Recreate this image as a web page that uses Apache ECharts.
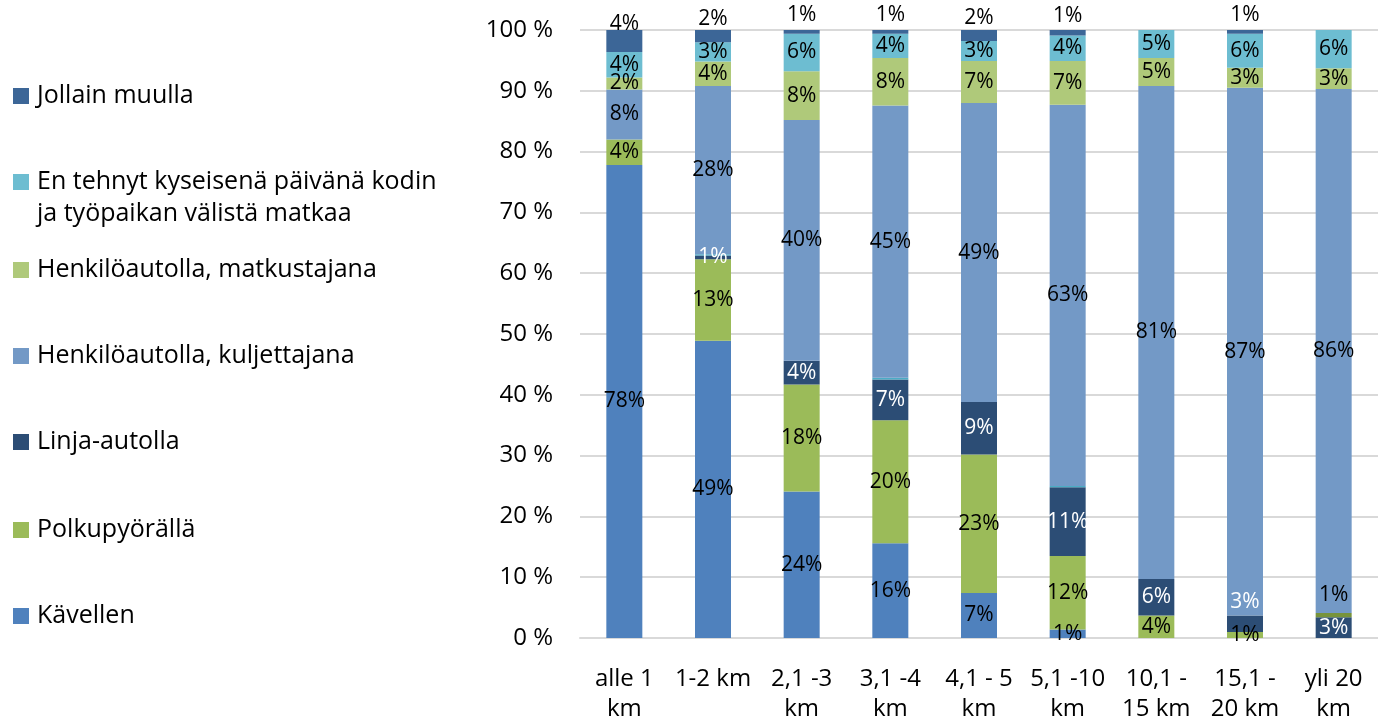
<!DOCTYPE html>
<html>
<head>
<meta charset="utf-8">
<script src="https://cdn.jsdelivr.net/npm/echarts@6/dist/echarts.min.js"></script>
<style>
html,body{margin:0;padding:0;background:#fff;}
#chart{width:1378px;height:724px;}
</style>
</head>
<body>
<div id="chart"></div>
<script>
// ---- data ----
const categories = ['alle 1\nkm','1-2 km','2,1 -3\nkm','3,1 -4\nkm','4,1 - 5\nkm','5,1 -10\nkm','10,1 -\n15 km','15,1 -\n20 km','yli 20\nkm'];
const seriesNames = ['Kävellen','Polkupyörällä','Linja-autolla','Muu joukkoliikenne','Muu','Henkilöautolla, kuljettajana','Henkilöautolla, matkustajana','En tehnyt kyseisenä päivänä kodin ja työpaikan välistä matkaa','Jollain muulla'];
const kavellen   = [77.8, 48.9, 24.1, 15.6, 7.4, 1.4, 0, 0, 0];
const polkupyora = [4.2, 13.4, 17.6, 20.2, 22.8, 12.1, 3.7, 1.0, 0];
const linjaauto  = [0, 0.6, 3.9, 6.7, 8.6, 11.3, 6.0, 2.7, 3.4];
const muuJoukko  = [0, 0.2, 0, 0.3, 0, 0.2, 0, 0, 0];
const muu        = [0, 0, 0, 0, 0, 0, 0, 0, 0.7];
const kuljettaja = [8.2, 27.7, 39.6, 44.8, 49.2, 62.7, 81.1, 86.8, 86.2];
const matkustaja = [2.0, 4.0, 8.0, 7.8, 6.9, 7.2, 4.6, 3.3, 3.4];
const enTehnyt   = [4.2, 3.2, 6.2, 4.0, 3.3, 4.2, 4.6, 5.6, 6.3];
const jollain    = [3.6, 2.0, 0.6, 0.6, 1.8, 0.9, 0, 0.6, 0];
const yTicks = [0,10,20,30,40,50,60,70,80,90,100];

const values = [kavellen, polkupyora, linjaauto, muuJoukko, muu, kuljettaja, matkustaja, enTehnyt, jollain];
const colors = ['#4F81BD','#9BBB59','#2C4D75','#4BACC6','#77933C','#7399C6','#AFC97A','#6DBDD1','#3C6697'];
const labelColors = ['#000','#000','#fff','#000','#000','#000','#000','#000','#000'];
// label vertical shifts (series index -> offset, or per-point overrides)
const seriesLabelShift = { 8: -17 };
const pointLabelShift = { '2-7': -22, '4-8': -20 };

const FONT = '"Open Sans", "DejaVu Sans", sans-serif';

const series = seriesNames.map((n, i) => ({
  name: n,
  type: 'bar',
  stack: 'total',
  barWidth: 36,
  data: values[i].map((v, j) => {
    const key = i + '-' + j;
    if (pointLabelShift[key] !== undefined) {
      return { value: v, label: { offset: [0, pointLabelShift[key]] } };
    }
    return v;
  }),
  itemStyle: { color: colors[i] },
  label: {
    show: true,
    position: 'inside',
    color: labelColors[i],
    fontFamily: FONT,
    fontSize: 21,
    offset: [0, seriesLabelShift[i] || 0],
    formatter: p => Math.round(p.value) >= 1 ? Math.round(p.value) + '%' : ''
  },
  emphasis: { disabled: true }
}));

// legend (top to bottom order as in reference)
const legendItems = [
  { name: 'Jollain muulla', y: 95, text: 'Jollain muulla' },
  { name: 'En tehnyt kyseisenä päivänä kodin ja työpaikan välistä matkaa', y: 181, text: 'En tehnyt kyseisenä päivänä kodin' },
  { name: 'Henkilöautolla, matkustajana', y: 269, text: 'Henkilöautolla, matkustajana' },
  { name: 'Henkilöautolla, kuljettajana', y: 355, text: 'Henkilöautolla, kuljettajana' },
  { name: 'Linja-autolla', y: 441, text: 'Linja-autolla' },
  { name: 'Polkupyörällä', y: 529, text: 'Polkupyörällä' },
  { name: 'Kävellen', y: 615, text: 'Kävellen' }
];
const legends = legendItems.map(it => ({
  data: [it.name],
  left: 13,
  top: it.y - 17,
  padding: 0,
  orient: 'vertical',
  icon: 'rect',
  itemWidth: 16,
  itemHeight: 16,
  selectedMode: false,
  formatter: () => it.text,
  textStyle: { fontFamily: FONT, fontSize: 25, color: '#000', lineHeight: 36, padding: [0,0,0,3] }
}));

const chart = echarts.init(document.getElementById('chart'), null, { renderer: 'canvas' });
chart.setOption({
  animation: false,
  backgroundColor: '#fff',
  legend: legends,
  graphic: [{
    type: 'text',
    x: 37,
    y: 214,
    style: { text: 'ja työpaikan välistä matkaa', font: '25px ' + FONT, fill: '#000', verticalAlign: 'middle' }
  }],
  grid: { left: 580, right: -12, top: 30, bottom: 85, containLabel: false },
  xAxis: {
    type: 'category',
    data: categories,
    axisTick: { show: false },
    axisLine: { lineStyle: { color: '#D9D9D9', width: 2 } },
    axisLabel: { color: '#000', fontFamily: FONT, fontSize: 24, lineHeight: 30, margin: 26, interval: 0 }
  },
  yAxis: {
    type: 'value',
    min: 0,
    max: 100,
    interval: 10,
    axisLine: { show: false },
    axisTick: { show: false },
    splitLine: { lineStyle: { color: '#D9D9D9', width: 2 } },
    axisLabel: { color: '#000', fontFamily: FONT, fontSize: 24, margin: 27, formatter: v => yTicks.includes(v) ? v + ' %' : '' }
  },
  series: series
});
</script>
</body>
</html>
